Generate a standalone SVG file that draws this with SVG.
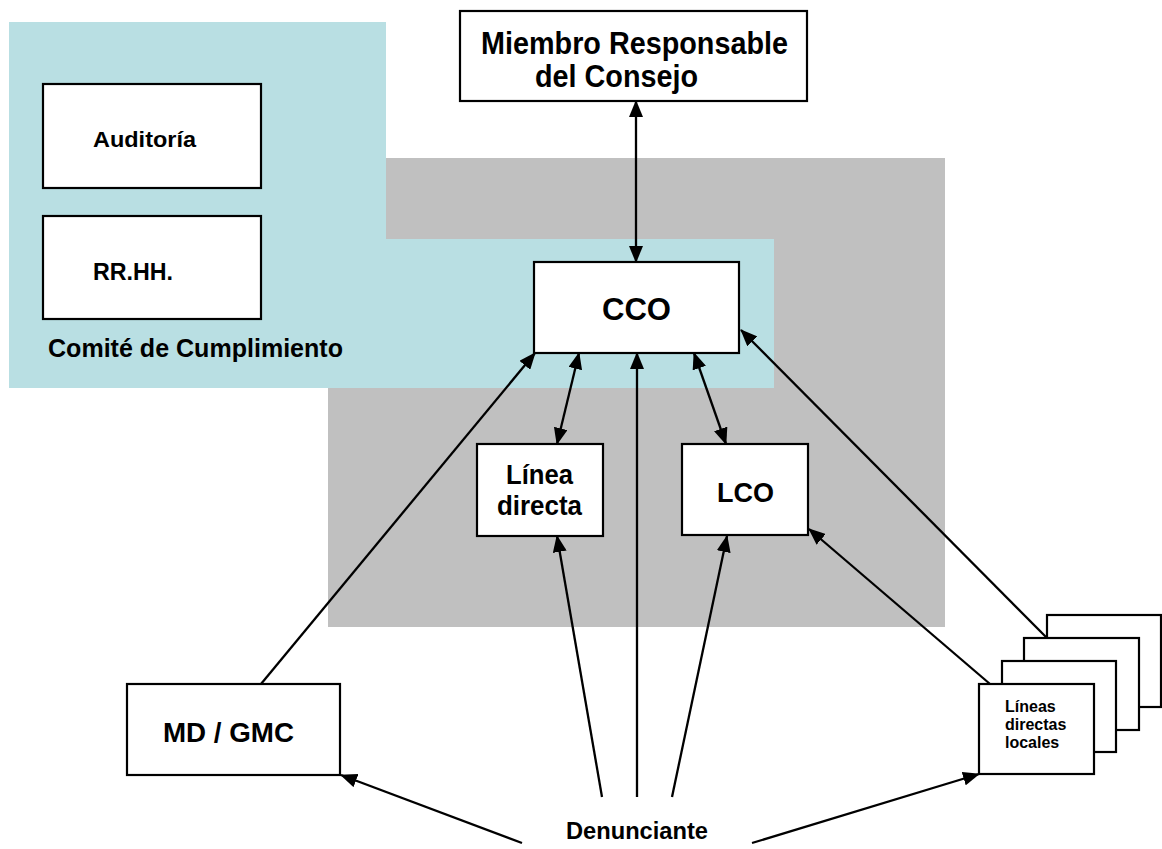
<svg xmlns="http://www.w3.org/2000/svg" width="1162" height="849" viewBox="0 0 1162 849">
<style>
.box{fill:#ffffff;stroke:#000000;stroke-width:2.2}
.t{font-family:"Liberation Sans",Arial,Helvetica,sans-serif;font-weight:bold;fill:#000000}
.c{fill:none;stroke:#000000;stroke-width:2.3}
</style>
<defs>
<marker id="ah" markerWidth="17" markerHeight="14" refX="16" refY="7" orient="auto-start-reverse" markerUnits="userSpaceOnUse">
<path d="M0,0 L17,7 L0,14 Z" fill="#000000"/>
</marker>
</defs>
<rect width="1162" height="849" fill="#ffffff"/>
<g id="background">
<rect x="328" y="158" width="617" height="469" fill="#C0C0C0"/>
<path d="M9,22 H386 V239 H774 V388 H9 Z" fill="#B9DFE3"/>
</g>
<g id="comite">
<text class="t" x="48" y="357" font-size="25" textLength="295" lengthAdjust="spacingAndGlyphs">Comité de Cumplimiento</text>
</g>
<g id="auditoria">
<rect class="box" x="43" y="84" width="218" height="104"/>
<text class="t" x="93" y="147" font-size="22" textLength="103" lengthAdjust="spacingAndGlyphs">Auditoría</text>
</g>
<g id="rrhh">
<rect class="box" x="43" y="216" width="218" height="103"/>
<text class="t" x="93" y="280" font-size="23" textLength="80" lengthAdjust="spacingAndGlyphs">RR.HH.</text>
</g>
<g id="miembro">
<rect class="box" x="460" y="11" width="347" height="90"/>
<text class="t" x="481" y="54" font-size="31" textLength="307" lengthAdjust="spacingAndGlyphs">Miembro Responsable</text>
<text class="t" x="535" y="87" font-size="31" textLength="163" lengthAdjust="spacingAndGlyphs">del Consejo</text>
</g>
<g id="cco">
<rect class="box" x="534" y="262" width="205" height="91"/>
<text class="t" x="602" y="320" font-size="32" textLength="69" lengthAdjust="spacingAndGlyphs">CCO</text>
</g>
<g id="linea-directa">
<rect class="box" x="477" y="444" width="126" height="92"/>
<text class="t" x="506" y="484" font-size="28" textLength="67" lengthAdjust="spacingAndGlyphs">Línea</text>
<text class="t" x="497" y="515" font-size="28" textLength="85" lengthAdjust="spacingAndGlyphs">directa</text>
</g>
<g id="lco">
<rect class="box" x="682" y="444" width="126" height="91"/>
<text class="t" x="717" y="502" font-size="28" textLength="57" lengthAdjust="spacingAndGlyphs">LCO</text>
</g>
<g id="md-gmc">
<rect class="box" x="127" y="684" width="213" height="91"/>
<text class="t" x="163" y="742" font-size="28" textLength="131" lengthAdjust="spacingAndGlyphs">MD / GMC</text>
</g>
<g id="lineas-locales">
<rect class="box" x="1047" y="615" width="114" height="92"/>
<rect class="box" x="1024" y="638" width="115" height="92"/>
<rect class="box" x="1002" y="661" width="114" height="91"/>
<rect class="box" x="979" y="684" width="115" height="90"/>
<text class="t" x="1005" y="712" font-size="16">Líneas</text>
<text class="t" x="1005" y="730" font-size="16">directas</text>
<text class="t" x="1005" y="748" font-size="16">locales</text>
</g>
<g id="denunciante">
<text class="t" x="566" y="839" font-size="24" textLength="142" lengthAdjust="spacingAndGlyphs">Denunciante</text>
</g>
<g id="connectors">
<line class="c" x1="636" y1="101" x2="636" y2="262" marker-start="url(#ah)" marker-end="url(#ah)"/>
<line class="c" x1="579" y1="353" x2="557" y2="444" marker-start="url(#ah)" marker-end="url(#ah)"/>
<line class="c" x1="694" y1="353" x2="726" y2="444" marker-start="url(#ah)" marker-end="url(#ah)"/>
<line class="c" x1="637" y1="797" x2="637" y2="353" marker-end="url(#ah)"/>
<line class="c" x1="602" y1="797" x2="557" y2="536" marker-end="url(#ah)"/>
<line class="c" x1="672" y1="797" x2="727" y2="536" marker-end="url(#ah)"/>
<line class="c" x1="261" y1="684" x2="535" y2="353" marker-end="url(#ah)"/>
<line class="c" x1="1047" y1="638" x2="741" y2="330" marker-end="url(#ah)"/>
<line class="c" x1="990" y1="684" x2="809" y2="529" marker-end="url(#ah)"/>
<line class="c" x1="522" y1="843" x2="341" y2="775" marker-end="url(#ah)"/>
<line class="c" x1="752" y1="843" x2="979" y2="774" marker-end="url(#ah)"/>
</g>
</svg>
